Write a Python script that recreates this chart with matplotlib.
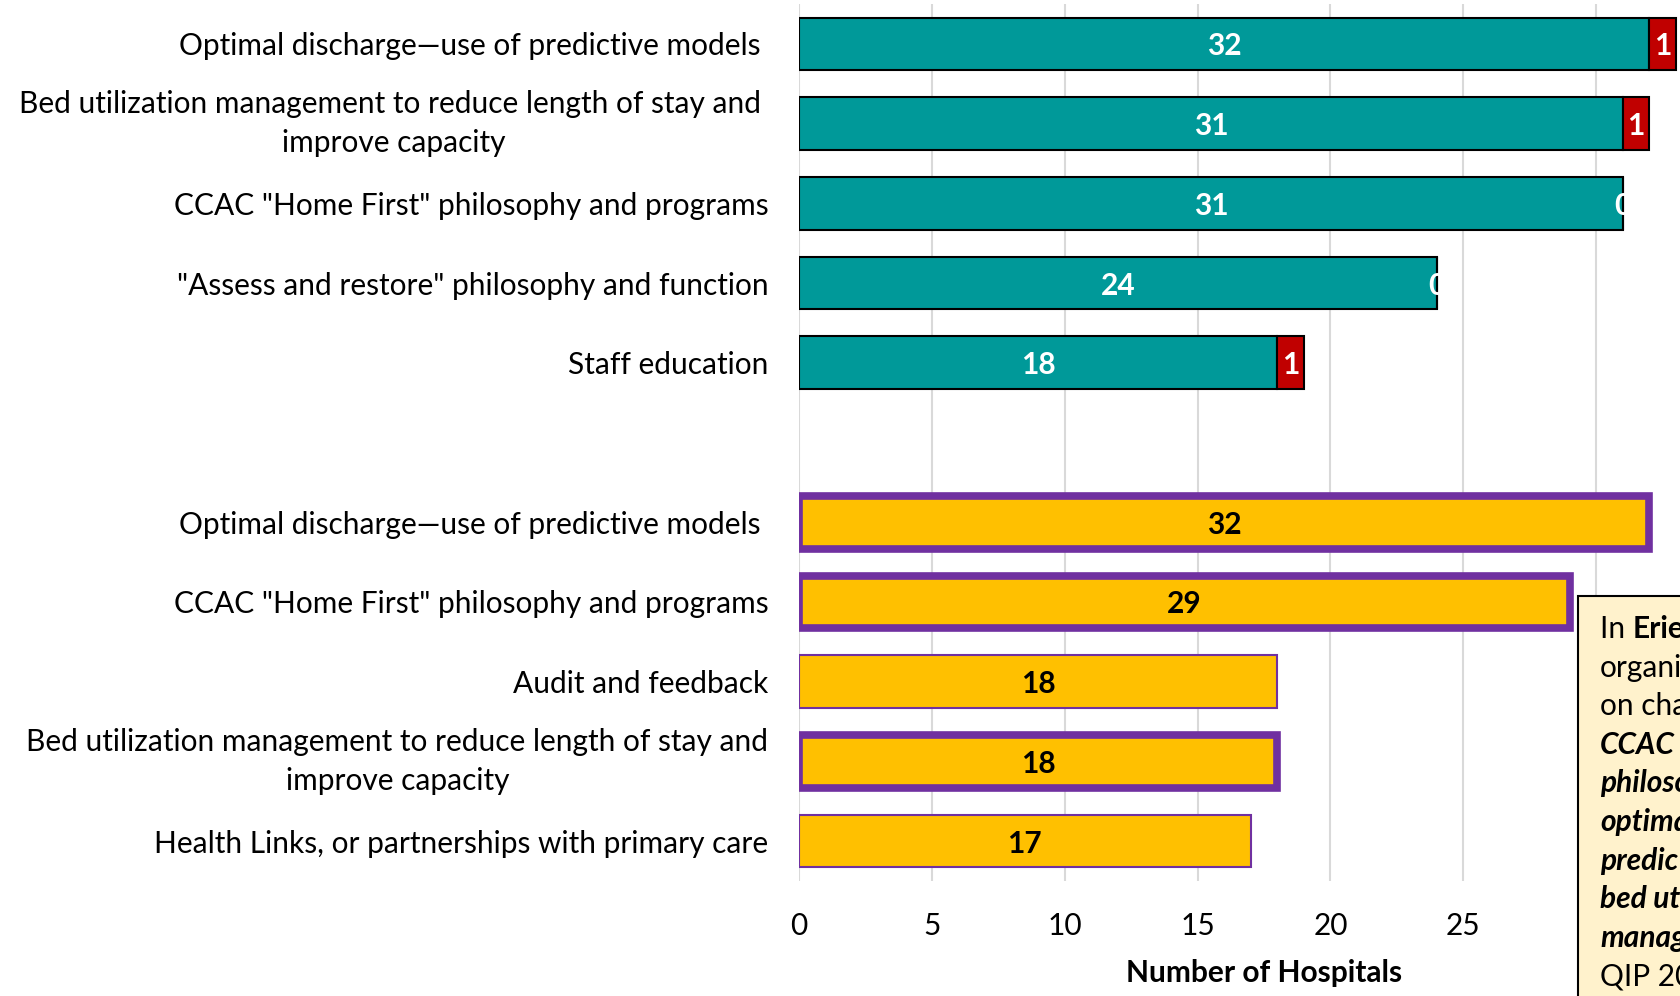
import matplotlib
matplotlib.use("Agg")
import matplotlib.pyplot as plt
from matplotlib.patches import Rectangle

plt.rcParams['font.family'] = ['Lato', 'DejaVu Sans']

# ---------------- data ----------------
top_labels = [
    "Optimal discharge\u2014use of predictive models ",
    "Bed utilization management to reduce length of stay and \nimprove capacity",
    "CCAC \"Home First\" philosophy and programs",
    "\"Assess and restore\" philosophy and function",
    "Staff education",
]
top_green = [32, 31, 31, 24, 18]
top_red = [1, 1, 0, 0, 1]

bottom_labels = [
    "Optimal discharge\u2014use of predictive models ",
    "CCAC \"Home First\" philosophy and programs",
    "Audit and feedback",
    "Bed utilization management to reduce length of stay and\nimprove capacity",
    "Health Links, or partnerships with primary care",
]
bottom_values = [32, 29, 18, 18, 17]
bottom_highlight = [True, True, False, True, False]

xticks = [0, 5, 10, 15, 20, 25, 30]
xlabel = "Number of Hospitals"

# visible part of the side note (cut by the right edge in the reference)
note_lines = [
    [("In ", "normal", "normal"), ("Erie", "bold", "normal")],
    [("organi", "normal", "normal")],
    [("on cha", "normal", "normal")],
    [("CCAC", "bold", "italic")],
    [("philoso", "bold", "italic")],
    [("optima", "bold", "italic")],
    [("predic", "bold", "italic")],
    [("bed ut", "bold", "italic")],
    [("manag", "bold", "italic")],
    [("QIP 20", "normal", "normal")],
]

TEAL = "#009999"
RED = "#C00000"
GOLD = "#FFC000"
PURPLE = "#7030A0"

FS = 21.5

fig = plt.figure(figsize=(16.8, 9.96), dpi=100)
ax = fig.add_axes([799/1680, 1 - 881/996, 930/1680, 877/996])

top_pos = list(range(len(top_labels)))
bot_pos = [len(top_labels) + 1 + i for i in range(len(bottom_labels))]
h = 0.66

ax.barh(top_pos, top_green, height=h, color=TEAL, edgecolor="black", linewidth=1.5, zorder=3)
ax.barh(top_pos, top_red, left=top_green, height=h, color=RED, edgecolor="black", linewidth=1.5, zorder=3)
for y, g, r in zip(top_pos, top_green, top_red):
    ax.text(g / 2, y, str(g), ha="center", va="center_baseline", color="white",
            fontsize=FS, fontweight="bold", zorder=4)
    ax.text(g + r / 2, y, str(r), ha="center", va="center_baseline", color="white",
            fontsize=FS, fontweight="bold", zorder=4)

for y, v, hl in zip(bot_pos, bottom_values, bottom_highlight):
    ax.barh(y, v, height=h, color=GOLD, edgecolor=PURPLE,
            linewidth=5.5 if hl else 1.5, zorder=3)
    ax.text(v / 2, y, str(v), ha="center", va="center_baseline", color="black",
            fontsize=FS, fontweight="bold", zorder=4)

ax.set_yticks(top_pos + bot_pos)
ax.set_yticklabels(top_labels + bottom_labels, fontsize=FS, multialignment="center",
                   linespacing=1.5)
for lab in ax.get_yticklabels():
    if "\n" in lab.get_text():
        lab.set_va("center")
ax.set_ylim(10.5, -0.5)
ax.set_xlim(0, 35)
ax.set_xticks(xticks)
ax.set_xticklabels([str(t) for t in xticks], fontsize=FS)
ax.tick_params(axis="both", length=0)
ax.tick_params(axis="y", pad=22)
ax.tick_params(axis="x", pad=22)
ax.set_xlabel(xlabel, fontsize=FS, fontweight="bold", labelpad=14)
for s in ax.spines.values():
    s.set_visible(False)
ax.grid(axis="x", color="#D9D9D9", linewidth=1.5, zorder=0)
ax.set_axisbelow(True)

# ---------------- annotation box ----------------
box = Rectangle((1578/1680, -0.05), 0.2, (1 - 596/996) + 0.05, transform=fig.transFigure,
                facecolor="#FFF2CC", edgecolor="black", linewidth=1.5, zorder=5)
fig.add_artist(box)

renderer = fig.canvas.get_renderer()
x0 = 1600
for i, parts in enumerate(note_lines):
    ybase = 996 - (629 + 9 + i * 38.6)
    xpix = x0
    for txt, w, st in parts:
        t = fig.text(xpix / 1680, ybase / 996, txt, ha="left", va="baseline",
                     fontsize=FS, fontweight=w, fontstyle=st, zorder=6)
        xpix += t.get_window_extent(renderer=renderer).width

fig.savefig("out.png", dpi=100)
